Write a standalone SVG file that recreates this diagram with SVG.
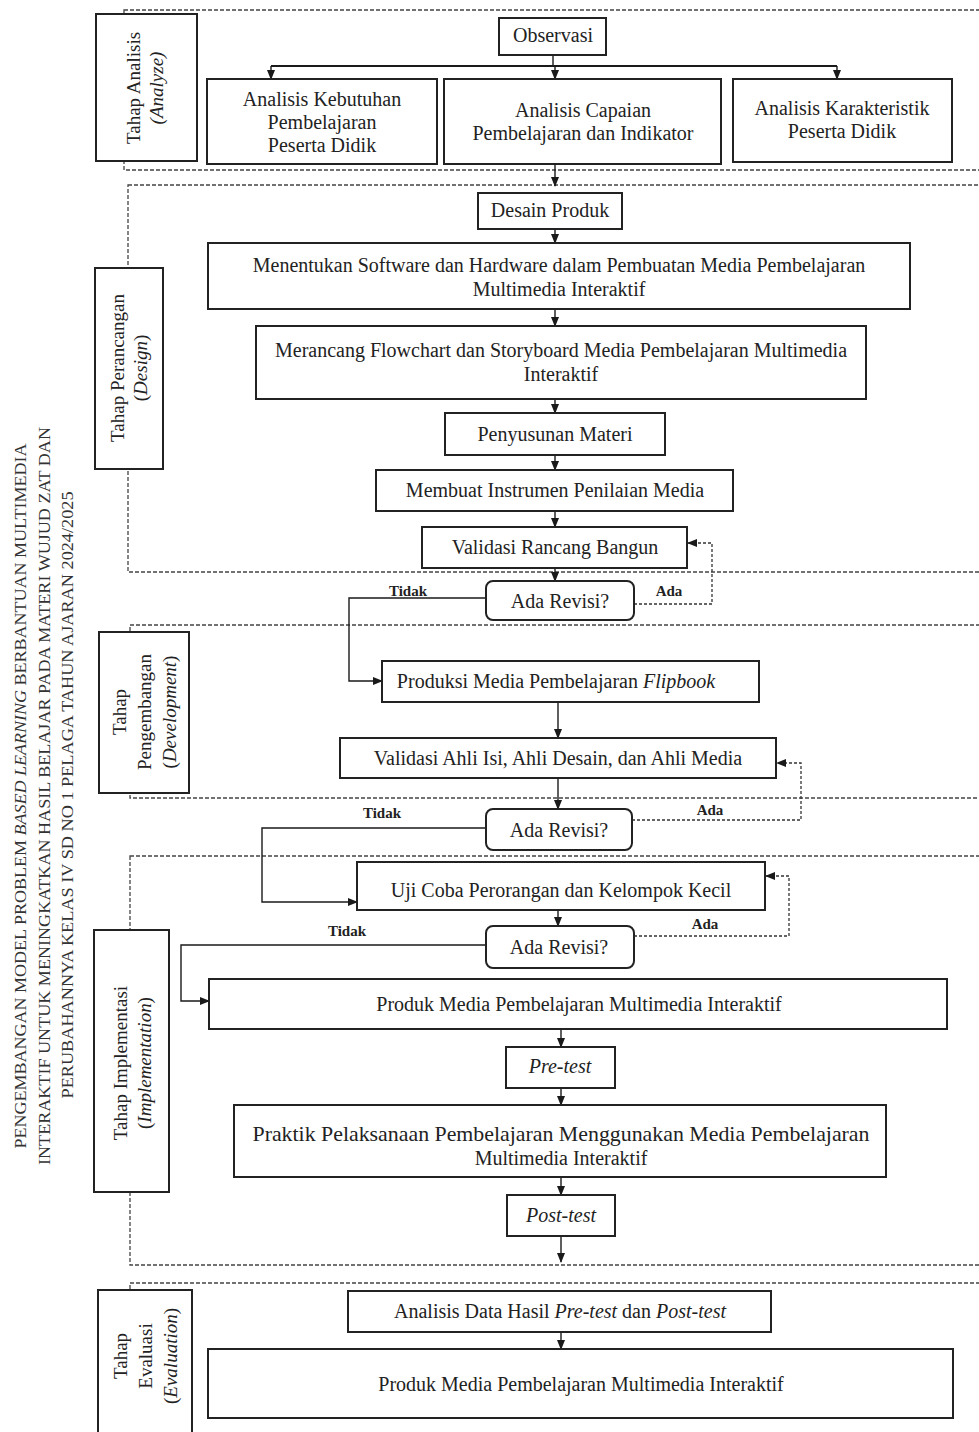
<svg xmlns="http://www.w3.org/2000/svg" width="979" height="1432" viewBox="0 0 979 1432">
<defs>
<marker id="ah" markerWidth="10" markerHeight="8" refX="9" refY="4" orient="auto" markerUnits="userSpaceOnUse">
<path d="M0,0 L10,4 L0,8 Z" fill="#1a1a1a"/>
</marker>
<style>
.box{fill:#fff;stroke:#222;stroke-width:2}
.lbl{fill:#fff;stroke:#222;stroke-width:2}
.dec{fill:#fff;stroke:#222;stroke-width:2}
.phase{fill:none;stroke:#444;stroke-width:1.3;stroke-dasharray:4 2}
.t{font-family:"Liberation Serif","Times New Roman",serif;font-size:20px;fill:#222;text-anchor:middle}
.r{font-family:"Liberation Serif","Times New Roman",serif;font-size:19px;fill:#222;text-anchor:middle}
.ttl{font-family:"Liberation Serif","Times New Roman",serif;font-size:17px;fill:#333;text-anchor:middle}
.yn{font-family:"Liberation Serif","Times New Roman",serif;font-size:15px;font-weight:bold;fill:#222;text-anchor:middle}
.c{fill:none;stroke:#1a1a1a;stroke-width:1.4}
.cd{fill:none;stroke:#333;stroke-width:1.3;stroke-dasharray:3 2}
.i{font-style:italic}
</style>
</defs>
<rect width="979" height="1432" fill="#fff"/>

<g id="title">
<text class="ttl" transform="translate(26,796) rotate(-90)" textLength="705" lengthAdjust="spacingAndGlyphs">PENGEMBANGAN MODEL PROBLEM <tspan class="i">BASED LEARNING</tspan> BERBANTUAN MULTIMEDIA</text>
<text class="ttl" transform="translate(50,796) rotate(-90)" textLength="738" lengthAdjust="spacingAndGlyphs">INTERAKTIF UNTUK MENINGKATKAN HASIL BELAJAR PADA MATERI WUJUD ZAT DAN</text>
<text class="ttl" transform="translate(73,795) rotate(-90)" textLength="607" lengthAdjust="spacingAndGlyphs">PERUBAHANNYA KELAS IV SD NO 1 PELAGA TAHUN AJARAN 2024/2025</text>
</g>

<g id="phases">
<rect class="phase" x="124" y="10" width="880" height="160"/>
<rect class="phase" x="128" y="185" width="880" height="387"/>
<rect class="phase" x="130" y="625" width="880" height="173"/>
<rect class="phase" x="130" y="856" width="880" height="409"/>
<rect class="phase" x="130" y="1283" width="880" height="200"/>
</g>

<g id="label-analyze">
<rect class="lbl" x="96" y="14" width="101" height="147"/>
<text class="r" transform="translate(140,88) rotate(-90)">Tahap Analisis</text>
<text class="r" transform="translate(163,88) rotate(-90)"><tspan class="i">(Analyze)</tspan></text>
</g>
<g id="label-design">
<rect class="lbl" x="95" y="268" width="68" height="201"/>
<text class="r" transform="translate(124,368) rotate(-90)">Tahap Perancangan</text>
<text class="r" transform="translate(147,368) rotate(-90)">(<tspan class="i">Design</tspan>)</text>
</g>
<g id="label-development">
<rect class="lbl" x="99" y="632" width="90" height="161"/>
<text class="r" transform="translate(126,712) rotate(-90)">Tahap</text>
<text class="r" transform="translate(151,712) rotate(-90)">Pengembangan</text>
<text class="r" transform="translate(176,712) rotate(-90)">(<tspan class="i">Development</tspan>)</text>
</g>
<g id="label-implementation">
<rect class="lbl" x="94" y="930" width="75" height="262"/>
<text class="r" transform="translate(127,1063) rotate(-90)">Tahap Implementasi</text>
<text class="r" transform="translate(151,1063) rotate(-90)">(<tspan class="i">Implementation</tspan>)</text>
</g>
<g id="label-evaluation">
<rect class="lbl" x="98" y="1290" width="94" height="160"/>
<text class="r" transform="translate(127,1356) rotate(-90)">Tahap</text>
<text class="r" transform="translate(152,1356) rotate(-90)">Evaluasi</text>
<text class="r" transform="translate(177,1356) rotate(-90)">(<tspan class="i">Evaluation</tspan>)</text>
</g>

<g id="connectors">
<path class="c" d="M553,55 V66"/>
<path class="c" style="stroke-width:2.2" d="M271,66 H837"/>
<path class="c" d="M271,66 V79" marker-end="url(#ah)"/>
<path class="c" d="M555,66 V79" marker-end="url(#ah)"/>
<path class="c" d="M837,66 V79" marker-end="url(#ah)"/>
<path class="c" d="M555,164 V186" marker-end="url(#ah)"/>
<path class="c" d="M555,229 V243" marker-end="url(#ah)"/>
<path class="c" d="M555,309 V326" marker-end="url(#ah)"/>
<path class="c" d="M555,399 V413" marker-end="url(#ah)"/>
<path class="c" d="M555,455 V470" marker-end="url(#ah)"/>
<path class="c" d="M555,511 V527" marker-end="url(#ah)"/>
<path class="c" d="M555,568 V581" marker-end="url(#ah)"/>
<path class="c" d="M486,598 H349 V681 H382" marker-end="url(#ah)"/>
<path class="cd" d="M634,604 H712 V543 H688" marker-end="url(#ah)"/>
<path class="c" d="M558,702 V738" marker-end="url(#ah)"/>
<path class="c" d="M558,778 V809" marker-end="url(#ah)"/>
<path class="c" d="M486,828 H262 V902 H357" marker-end="url(#ah)"/>
<path class="cd" d="M632,820 H801 V763 H777" marker-end="url(#ah)"/>
<path class="c" d="M558,910 V926" marker-end="url(#ah)"/>
<path class="c" d="M486,945 H181 V1001 H209" marker-end="url(#ah)"/>
<path class="cd" d="M634,936 H789 V876 H766" marker-end="url(#ah)"/>
<path class="c" d="M561,1029 V1047" marker-end="url(#ah)"/>
<path class="c" d="M561,1088 V1105" marker-end="url(#ah)"/>
<path class="c" d="M561,1177 V1195" marker-end="url(#ah)"/>
<path class="c" d="M561,1236 V1262" marker-end="url(#ah)"/>
<path class="c" d="M561,1332 V1349" marker-end="url(#ah)"/>
<text class="yn" x="408" y="596">Tidak</text>
<text class="yn" x="669" y="596">Ada</text>
<text class="yn" x="382" y="818">Tidak</text>
<text class="yn" x="710" y="815">Ada</text>
<text class="yn" x="347" y="936">Tidak</text>
<text class="yn" x="705" y="929">Ada</text>
</g>

<g id="observasi">
<rect class="box" x="499" y="18" width="107" height="37"/>
<text class="t" x="553" y="42">Observasi</text>
</g>
<g id="analisis-kebutuhan">
<rect class="box" x="207" y="79" width="230" height="85"/>
<text class="t" x="322" y="106">Analisis Kebutuhan</text>
<text class="t" x="322" y="129">Pembelajaran</text>
<text class="t" x="322" y="152">Peserta Didik</text>
</g>
<g id="analisis-capaian">
<rect class="box" x="444" y="79" width="277" height="85"/>
<text class="t" x="583" y="117">Analisis Capaian</text>
<text class="t" x="583" y="140">Pembelajaran dan Indikator</text>
</g>
<g id="analisis-karakteristik">
<rect class="box" x="733" y="79" width="219" height="83"/>
<text class="t" x="842" y="115">Analisis Karakteristik</text>
<text class="t" x="842" y="138">Peserta Didik</text>
</g>

<g id="desain-produk">
<rect class="box" x="478" y="193" width="144" height="36"/>
<text class="t" x="550" y="217">Desain Produk</text>
</g>
<g id="menentukan">
<rect class="box" x="208" y="243" width="702" height="66"/>
<text class="t" x="559" y="272">Menentukan Software dan Hardware dalam Pembuatan Media Pembelajaran</text>
<text class="t" x="559" y="296">Multimedia Interaktif</text>
</g>
<g id="merancang">
<rect class="box" x="256" y="326" width="610" height="73"/>
<text class="t" x="561" y="357">Merancang Flowchart dan Storyboard Media Pembelajaran Multimedia</text>
<text class="t" x="561" y="381">Interaktif</text>
</g>
<g id="penyusunan">
<rect class="box" x="445" y="413" width="220" height="42"/>
<text class="t" x="555" y="441">Penyusunan Materi</text>
</g>
<g id="instrumen">
<rect class="box" x="376" y="470" width="357" height="41"/>
<text class="t" x="555" y="497">Membuat Instrumen Penilaian Media</text>
</g>
<g id="validasi-rancang">
<rect class="box" x="422" y="527" width="265" height="41"/>
<text class="t" x="555" y="554">Validasi Rancang Bangun</text>
</g>
<g id="revisi-1">
<rect class="dec" x="486" y="581" width="148" height="39" rx="7"/>
<text class="t" x="560" y="608">Ada Revisi?</text>
</g>

<g id="produksi">
<rect class="box" x="382" y="661" width="377" height="41"/>
<text class="t" x="556" y="688">Produksi Media Pembelajaran <tspan class="i">Flipbook</tspan></text>
</g>
<g id="validasi-ahli">
<rect class="box" x="340" y="738" width="436" height="40"/>
<text class="t" x="558" y="765">Validasi Ahli Isi, Ahli Desain, dan Ahli Media</text>
</g>
<g id="revisi-2">
<rect class="dec" x="486" y="809" width="146" height="41" rx="7"/>
<text class="t" x="559" y="837">Ada Revisi?</text>
</g>

<g id="uji-coba">
<rect class="box" x="357" y="862" width="408" height="48"/>
<text class="t" x="561" y="897">Uji Coba Perorangan dan Kelompok Kecil</text>
</g>
<g id="revisi-3">
<rect class="dec" x="486" y="926" width="148" height="42" rx="7"/>
<text class="t" x="559" y="954">Ada Revisi?</text>
</g>
<g id="produk-1">
<rect class="box" x="209" y="979" width="738" height="50"/>
<text class="t" x="579" y="1011">Produk Media Pembelajaran Multimedia Interaktif</text>
</g>
<g id="pre-test">
<rect class="box" x="506" y="1047" width="109" height="41"/>
<text class="t i" x="560" y="1073">Pre-test</text>
</g>
<g id="praktik">
<rect class="box" x="234" y="1105" width="652" height="72"/>
<text class="t" x="561" y="1141" style="font-size:21.5px" textLength="617" lengthAdjust="spacingAndGlyphs">Praktik Pelaksanaan Pembelajaran Menggunakan Media Pembelajaran</text>
<text class="t" x="561" y="1165">Multimedia Interaktif</text>
</g>
<g id="post-test">
<rect class="box" x="507" y="1195" width="108" height="41"/>
<text class="t i" x="561" y="1222">Post-test</text>
</g>

<g id="analisis-data">
<rect class="box" x="348" y="1291" width="423" height="41"/>
<text class="t" x="560" y="1318">Analisis Data Hasil <tspan class="i">Pre-test</tspan> dan <tspan class="i">Post-test</tspan></text>
</g>
<g id="produk-2">
<rect class="box" x="208" y="1349" width="745" height="69"/>
<text class="t" x="581" y="1391">Produk Media Pembelajaran Multimedia Interaktif</text>
</g>
</svg>
